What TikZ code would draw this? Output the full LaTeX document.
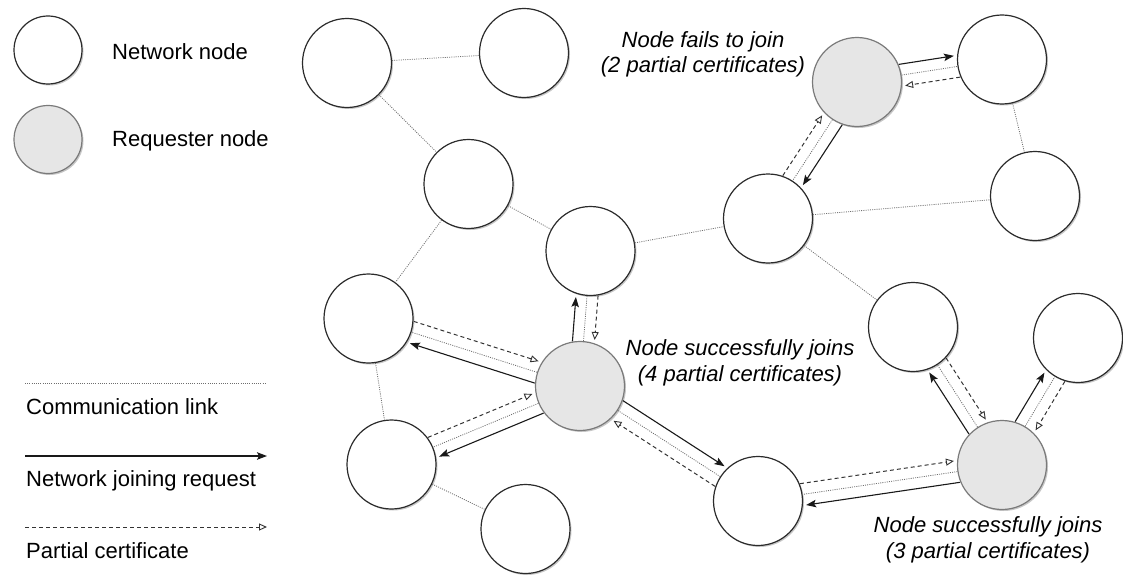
\documentclass[tikz,border=0pt]{standalone}
\usepackage{fontspec}
\setmainfont{Liberation Sans}
\usetikzlibrary{arrows.meta,calc,shadows}
\definecolor{reqfill}{HTML}{E6E6E6}
\definecolor{reqline}{HTML}{7A7A7A}
\definecolor{nodeline}{HTML}{2B2B2B}
\definecolor{linkcol}{HTML}{6E6E6E}
\tikzset{
  netnode/.style={circle,draw=nodeline,line width=1.2pt,fill=white,inner sep=0pt,minimum size=89pt,
    drop shadow={shadow xshift=1.5pt,shadow yshift=-1.5pt,fill=black,opacity=0.22}},
  reqnode/.style={netnode,draw=reqline,fill=reqfill},
  legnode/.style={minimum size=68pt},
  comm/.style={draw=linkcol,line width=0.8pt,dash pattern=on 1pt off 1.2pt},
  req/.style={draw=black!90,line width=1.1pt,-{Stealth[length=10pt,width=7.5pt,inset=2pt]}},
  cert/.style={draw=black!80,line width=1pt,dash pattern=on 4pt off 3pt,
    -{Triangle[open,length=8pt,width=7pt,line width=0.9pt,sep=0pt]}},
  lbl/.style={font=\fontsize{22}{25.5}\selectfont,inner sep=0pt},
  ilbl/.style={font=\fontsize{22}{25.5}\selectfont\itshape,align=center,inner sep=0pt},
}
\newcommand\reqtrio[2]{%
  \draw[req,shorten <=44pt,shorten >=47pt] ($(#1)!11pt!90:(#2)$) -- ($(#2)!11pt!-90:(#1)$);
  \draw[comm] (#1) -- (#2);
  \draw[cert,shorten <=44pt,shorten >=47pt] ($(#2)!11pt!90:(#1)$) -- ($(#1)!11pt!-90:(#2)$);
}
\begin{document}
\begin{tikzpicture}[x=1pt,y=-1pt]
\useasboundingbox (0,0) rectangle (1123,575);
% legend
\node[netnode,legnode] (lgnet) at (48,50) {};
\node[reqnode,legnode] (lgreq) at (48,139.5) {};
\node[lbl,anchor=base west] (tnet) at (112,60) {Network node};
\node[lbl,anchor=base west] (treq) at (112,146) {Requester node};
\coordinate (lc1) at (25,383); \coordinate (lc2) at (267,383);
\draw[comm] (lc1) -- (lc2);
\node[lbl,anchor=base west] (tcomm) at (26,414) {Communication link};
\coordinate (lr1) at (25,456); \coordinate (lr2) at (267,456);
\draw[req] (lr1) -- (lr2);
\node[lbl,anchor=base west] (treqt) at (26,486) {Network joining request};
\coordinate (lp1) at (25,527); \coordinate (lp2) at (267,527);
\draw[cert] (lp1) -- (lp2);
\node[lbl,anchor=base west] (tcert) at (26,558) {Partial certificate};
% nodes
\node[netnode] (n1) at (347,63) {};
\node[netnode] (n2) at (524,53) {};
\node[netnode] (n3) at (468.5,184) {};
\node[netnode] (n4) at (590.5,251) {};
\node[netnode] (n5) at (368.5,318.5) {};
\node[reqnode] (n6) at (580,386) {};
\node[netnode] (n7) at (391.5,464.5) {};
\node[netnode] (n8) at (525.5,529) {};
\node[netnode] (n9) at (768,218.5) {};
\node[reqnode] (n10) at (857,82) {};
\node[netnode] (n11) at (1002,59.5) {};
\node[netnode] (n12) at (1035,196) {};
\node[netnode] (n13) at (913,327) {};
\node[netnode] (n14) at (1078,338) {};
\node[reqnode] (n15) at (1002,465) {};
\node[netnode] (n16) at (758,501) {};
% communication links
\draw[comm] (n1) -- (n2);
\draw[comm] (n1) -- (n3);
\draw[comm] (n3) -- (n4);
\draw[comm] (n3) -- (n5);
\draw[comm] (n4) -- (n9);
\draw[comm] (n9) -- (n12);
\draw[comm] (n9) -- (n13);
\draw[comm] (n11) -- (n12);
\draw[comm] (n5) -- (n7);
\draw[comm] (n7) -- (n8);
% requests and certificates
\reqtrio{n6}{n5}
\reqtrio{n6}{n7}
\reqtrio{n6}{n4}
\reqtrio{n6}{n16}
\reqtrio{n10}{n11}
\reqtrio{n10}{n9}
\reqtrio{n15}{n13}
\reqtrio{n15}{n14}
\reqtrio{n15}{n16}
% labels
\node[ilbl] (lfail) at (703,54.5) {Node fails to join\\(2 partial certificates)};
\node[ilbl] (lok4) at (740,363) {Node successfully joins\\(4 partial certificates)};
\node[ilbl] (lok3) at (988,540) {Node successfully joins\\(3 partial certificates)};
\end{tikzpicture}
\end{document}
